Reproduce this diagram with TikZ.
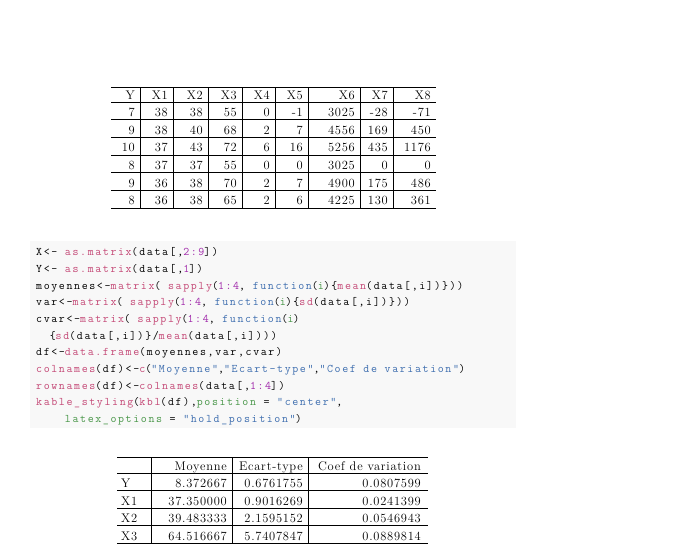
\documentclass[tikz,border=0pt]{standalone}
\usepackage{fontspec}
\setmonofont{Latin Modern Mono}[LetterSpace=14]
\newfontfamily\tabfont{Latin Modern Roman}[LetterSpace=6]
\definecolor{codebg}{RGB}{248,248,248}
\definecolor{cpink}{RGB}{196,72,118}
\definecolor{cblue}{RGB}{62,110,175}
\definecolor{cgreen}{RGB}{72,150,72}
\definecolor{cpurple}{RGB}{160,40,170}
\newcommand{\kw}[1]{\textcolor{cpink}{#1}}
\newcommand{\fk}[1]{\textcolor{cblue}{#1}}
\newcommand{\ag}[1]{\textcolor{cgreen}{#1}}
\newcommand{\nb}[1]{\textcolor{cpurple}{#1}}
\tikzset{
  cell/.style={anchor=base east,inner sep=0pt,font=\fontsize{12.5}{14}\tabfont},
  lcell/.style={anchor=base west,inner sep=0pt,font=\fontsize{12.5}{14}\tabfont},
  codeline/.style={anchor=base west,inner sep=0pt,font=\fontsize{11.6}{13}\ttfamily},
  rule/.style={line width=0.8pt},
  thin rule/.style={line width=0.4pt}
}
\begin{document}
\begin{tikzpicture}[x=1pt,y=-1pt]
\useasboundingbox (0,0) rectangle (680,557);

% First table: data
\draw[rule] (111,87) -- (436,87);
\draw[rule] (111,208) -- (436,208);
\foreach \r in {0,...,5}
  \draw[thin rule] (111,102+17.6*\r) -- (436,102+17.6*\r);
\foreach \xv in {140,173,208,242,275,308,360,393}
  \draw[thin rule] (\xv,87) -- (\xv,208);
\foreach \txt [count=\c] in {Y,X1,X2,X3,X4,X5,X6,X7,X8}{
  \pgfmathsetmacro{\xe}{{140,173,208,242,275,308,360,393,436}[\c-1]-5}
  \node[cell] (hd-\c) at (\xe,99) {\txt};
}
\foreach \rowvals [count=\r] in {
  {7,38,38,55,0,-1,3025,-28,-71},
  {9,38,40,68,2,7,4556,169,450},
  {10,37,43,72,6,16,5256,435,1176},
  {8,37,37,55,0,0,3025,0,0},
  {9,36,38,70,2,7,4900,175,486},
  {8,36,38,65,2,6,4225,130,361}}{
  \foreach \v [count=\c] in \rowvals {
    \pgfmathsetmacro{\xe}{{140,173,208,242,275,308,360,393,436}[\c-1]-5}
    \pgfmathsetmacro{\yb}{99+17.6*\r}
    \node[cell] (d-\r-\c) at (\xe,\yb) {\v};
  }
}

% Code block
\fill[codebg] (30,241) rectangle (516,428);
\node[codeline] (l1) at (36,255) {X<- \kw{as.matrix}(data[,\nb{2:9}])};
\node[codeline] (l2) at (36,272) {Y<- \kw{as.matrix}(data[,\nb{1}])};
\node[codeline] (l3) at (36,289) {moyennes<-\kw{matrix}( \kw{sapply}(\nb{1:4}, \fk{function}(\ag{i})\{\kw{mean}(data[,i])\}))};
\node[codeline] (l4) at (36,305) {var<-\kw{matrix}( \kw{sapply}(\nb{1:4}, \fk{function}(\ag{i})\{\kw{sd}(data[,i])\}))};
\node[codeline] (l5) at (36,322) {cvar<-\kw{matrix}( \kw{sapply}(\nb{1:4}, \fk{function}(\ag{i})};
\node[codeline] (l6) at (36,339) {\phantom{xx}\{\kw{sd}(data[,i])\}/\kw{mean}(data[,i])))};
\node[codeline] (l7) at (36,355) {df<-\kw{data.frame}(moyennes,var,cvar)};
\node[codeline] (l8) at (36,372) {\kw{colnames}(df)<-\kw{c}(\fk{"Moyenne"},\fk{"Ecart-type"},\fk{"Coef de variation"})};
\node[codeline] (l9) at (36,389) {\kw{rownames}(df)<-\kw{colnames}(data[,\nb{1:4}])};
\node[codeline] (l10) at (36,405) {\kw{kable\_styling}(\kw{kbl}(df),\ag{position} = \fk{"center"},};
\node[codeline] (l11) at (36,422) {\phantom{xxxx}\ag{latex\_options} = \fk{"hold\_position"})};

% Second table: summary
\draw[rule] (117,457) -- (428,457);
\draw[rule] (117,543) -- (428,543);
\foreach \r in {0,...,3}
  \draw[thin rule] (117,473+17.5*\r) -- (428,473+17.5*\r);
\foreach \xv in {151,232,308}
  \draw[thin rule] (\xv,457) -- (\xv,543);
\node[cell] (sh-2) at (227,470) {Moyenne};
\node[cell] (sh-3) at (303,470) {Ecart-type};
\node[cell] (sh-4) at (421,470) {Coef de variation};
\foreach \nm/\mo/\et/\cv [count=\r] in {
  Y/8.372667/0.6761755/0.0807599,
  X1/37.350000/0.9016269/0.0241399,
  X2/39.483333/2.1595152/0.0546943,
  X3/64.516667/5.7407847/0.0889814}{
  \pgfmathsetmacro{\yb}{470+17.5*\r}
  \node[lcell] (s-\r-1) at (121,\yb) {\nm};
  \node[cell] (s-\r-2) at (227,\yb) {\mo};
  \node[cell] (s-\r-3) at (303,\yb) {\et};
  \node[cell] (s-\r-4) at (421,\yb) {\cv};
}
\end{tikzpicture}
\end{document}
